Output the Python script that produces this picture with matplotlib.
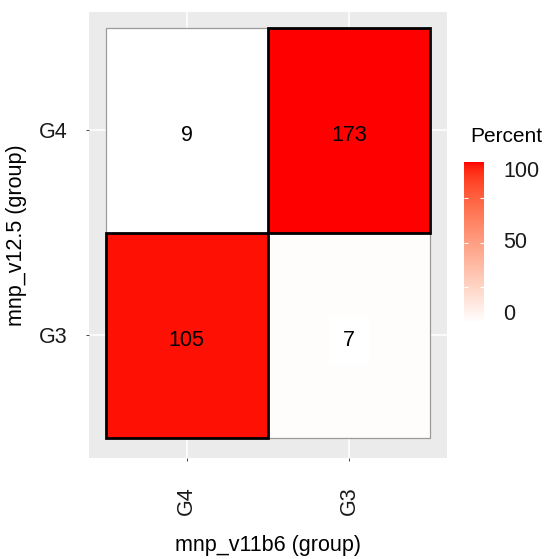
import numpy as np
import matplotlib
matplotlib.use("Agg")
import matplotlib.pyplot as plt
import matplotlib.transforms as mtransforms
from matplotlib.colors import LinearSegmentedColormap, Normalize
from matplotlib.patches import Rectangle
from matplotlib.cm import ScalarMappable

plt.rcParams["font.family"] = ["Liberation Sans", "DejaVu Sans"]

# Cross-tabulation of group assignments
x_groups = ["G4", "G3"]          # mnp_v11b6 (group)
y_groups = ["G3", "G4"]          # mnp_v12.5 (group), bottom to top
counts = {("G4", "G4"): 9, ("G3", "G4"): 173,
          ("G4", "G3"): 105, ("G3", "G3"): 7}
legend_breaks = [25, 50, 75]
legend_labels = ["0", "50", "100"]

# Percent within each mnp_v12.5 group (row)
percent = {}
for yg in y_groups:
    total = sum(counts[(xg, yg)] for xg in x_groups)
    for xg in x_groups:
        percent[(xg, yg)] = 100.0 * counts[(xg, yg)] / total


# White -> red gradient interpolated in CIELAB
def _to_lab(rgb):
    c = np.asarray(rgb, float)
    lin = np.where(c <= 0.04045, c / 12.92, ((c + 0.055) / 1.055) ** 2.4)
    M = np.array([[0.4124, 0.3576, 0.1805],
                  [0.2126, 0.7152, 0.0722],
                  [0.0193, 0.1192, 0.9505]])
    xyz = M @ lin / np.array([0.95047, 1.0, 1.08883])
    f = np.where(xyz > 0.008856, np.cbrt(xyz), 7.787 * xyz + 16 / 116)
    return np.array([116 * f[1] - 16, 500 * (f[0] - f[1]), 200 * (f[1] - f[2])])


def _from_lab(lab):
    L, a, b = lab
    fy = (L + 16) / 116
    fx = fy + a / 500
    fz = fy - b / 200
    f = np.array([fx, fy, fz])
    xyz = np.where(f ** 3 > 0.008856, f ** 3, (f - 16 / 116) / 7.787)
    xyz = xyz * np.array([0.95047, 1.0, 1.08883])
    Minv = np.array([[3.2406, -1.5372, -0.4986],
                     [-0.9689, 1.8758, 0.0415],
                     [0.0557, -0.2040, 1.0570]])
    lin = np.clip(Minv @ xyz, 0, 1)
    c = np.where(lin <= 0.0031308, 12.92 * lin, 1.055 * lin ** (1 / 2.4) - 0.055)
    return np.clip(c, 0, 1)


lab_lo, lab_hi = _to_lab([1, 1, 1]), _to_lab([1, 0, 0])
cols = [_from_lab(lab_lo + t * (lab_hi - lab_lo)) for t in np.linspace(0, 1, 256)]
cmap = LinearSegmentedColormap.from_list("white_red", cols)
vals = list(percent.values())
norm = Normalize(vmin=min(vals), vmax=max(vals))

FS = 15.5
W, H = 546, 559
fig = plt.figure(figsize=(W / 100, H / 100), dpi=100)
px0, px1, py0, py1 = 89, 447, 12, 458
ax = fig.add_axes([px0 / W, 1 - py1 / H, (px1 - px0) / W, (py1 - py0) / H])
ax.set_facecolor("#EBEBEB")
ax.set_xlim(0.397, 2.605)
ax.set_ylim(0.402, 2.578)

for v in [1, 2]:
    ax.axvline(v, color="white", lw=1.1, zorder=0)
    ax.axhline(v, color="white", lw=1.1, zorder=0)

# cell labels sit slightly below the tile centre
label_tr = ax.transData + mtransforms.ScaledTranslation(0, -5 / 100, fig.dpi_scale_trans)

cells = [(i + 1, j + 1, xg, yg) for i, xg in enumerate(x_groups)
         for j, yg in enumerate(y_groups)]
# low cells first, highlighted ones on top
cells.sort(key=lambda c: percent[(c[2], c[3])])
for xi, yi, xg, yg in cells:
    p = percent[(xg, yg)]
    high = p > 50
    ax.add_patch(Rectangle((xi - 0.5, yi - 0.5), 1, 1,
                           facecolor=cmap(norm(p)),
                           edgecolor="black" if high else "#9A9A9A",
                           lw=2.0 if high else 0.9, zorder=2 if high else 1))
    kw = {}
    if not high:
        kw["bbox"] = dict(boxstyle="square,pad=0.65", fc="white", ec="none")
    ax.text(xi, yi, str(counts[(xg, yg)]), ha="center", va="center",
            fontsize=FS, color="black", zorder=3, transform=label_tr, **kw)

ax.set_xticks([1, 2])
ax.set_xticklabels(x_groups, rotation=90, fontsize=FS, color="#1A1A1A")
ax.set_yticks([1, 2])
ax.set_yticklabels(y_groups, fontsize=FS, color="#1A1A1A")
ax.tick_params(length=2.5, width=0.7, color="#444444")
ax.tick_params(axis="x", pad=18)
ax.tick_params(axis="y", pad=13)
for s in ax.spines.values():
    s.set_visible(False)
ax.set_xlabel("mnp_v11b6 (group)", fontsize=FS, va="center")
ax.set_ylabel("mnp_v12.5 (group)", fontsize=FS, va="center")
ax.xaxis.set_label_coords(0.5, (py1 - 545) / (py1 - py0))
ax.yaxis.set_label_coords((17 - px0) / (px1 - px0), 0.5)

# colour legend
cax = fig.add_axes([464 / W, 1 - 323 / H, 20 / W, (323 - 162) / H])
cb = fig.colorbar(ScalarMappable(norm=norm, cmap=cmap), cax=cax)
cb.outline.set_visible(False)
cb.set_ticks(legend_breaks)
cb.set_ticklabels([])
cax.tick_params(length=0)
for t in legend_breaks:
    cax.hlines(t, 0, 0.2, color="white", lw=0.8)
    cax.hlines(t, 0.8, 1, color="white", lw=0.8)
for lab, fy in zip(legend_labels, [0.05, 0.5, 0.94]):
    cax.text(1.95, fy, lab, transform=cax.transAxes, ha="left", va="center",
             fontsize=FS, color="#1A1A1A")
fig.text(470 / W, 1 - 137 / H, "Percent", fontsize=15, ha="left", va="center")

fig.savefig("out.png", dpi=100)
